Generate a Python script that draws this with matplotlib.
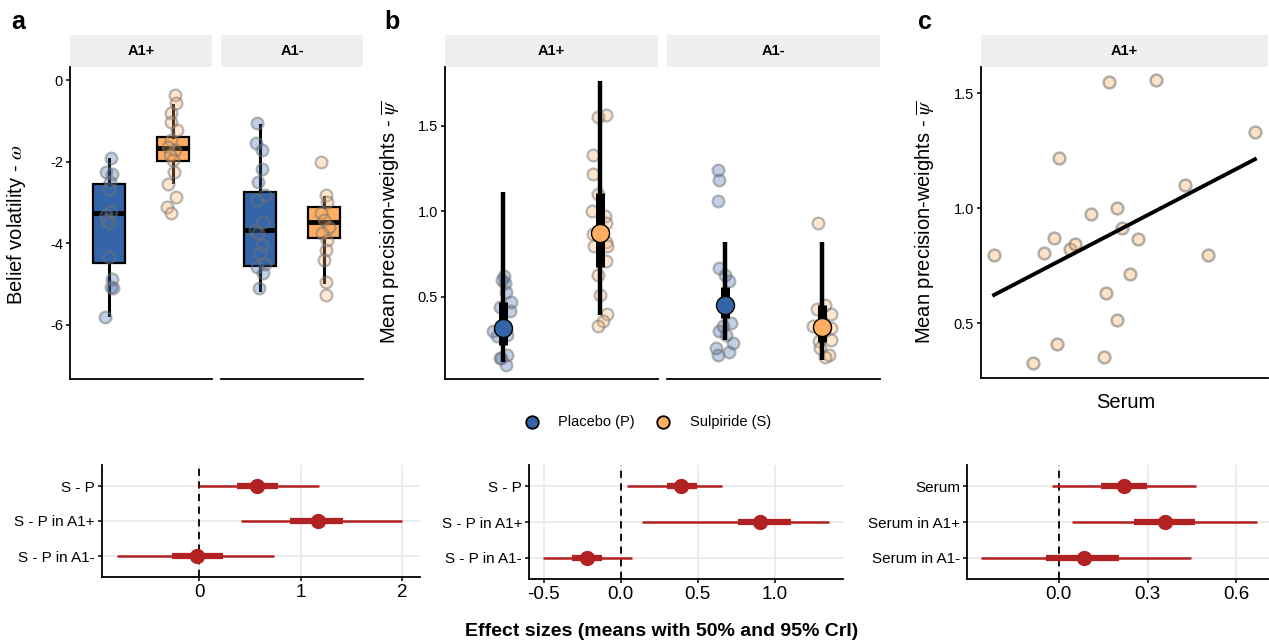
import matplotlib
matplotlib.use("Agg")
import matplotlib.pyplot as plt
import numpy as np
from matplotlib.patches import Rectangle

plt.rcParams["font.family"] = ["Liberation Sans", "DejaVu Sans"]
plt.rcParams["mathtext.fontset"] = "stix"
plt.rcParams["axes.unicode_minus"] = False

W, H = 1269, 644

# ── Data ────────────────────────────────────────────────────────────────
facets = ["A1+", "A1-"]
treatments = ["Placebo (P)", "Sulpiride (S)"]

# panel a: belief volatility (omega), individual subjects
omega_pla_a1p = [-1.90, -2.25, -2.30, -2.50, -2.66, -3.23, -3.30, -3.44, -3.50, -4.33, -4.87, -5.07, -5.10, -5.81]
omega_sul_a1p = [-0.37, -0.57, -0.82, -1.02, -1.23, -1.47, -1.64, -1.72, -1.84, -1.96, -2.25, -2.54, -2.86, -3.11, -3.27]
omega_pla_a1m = [-1.06, -1.55, -1.72, -2.17, -2.50, -2.82, -2.94, -3.48, -3.68, -3.76, -4.05, -4.25, -4.50, -4.58, -4.74, -5.11]
omega_sul_a1m = [-2.00, -2.82, -2.99, -3.27, -3.44, -3.60, -3.76, -3.93, -4.17, -4.42, -4.95, -5.28]
# jitter offsets
jit_pla_a1p = [0.03, -0.04, 0.05, 0.02, 0.01, 0.03, -0.05, -0.03, 0.0, 0.0, 0.05, 0.03, 0.07, -0.06]
jit_sul_a1p = [0.02, 0.04, -0.03, -0.04, 0.05, -0.03, -0.08, 0.03, -0.05, -0.01, 0.01, -0.08, 0.04, -0.09, -0.04]
jit_pla_a1m = [-0.05, -0.06, 0.03, 0.03, -0.03, 0.08, -0.04, 0.05, -0.08, -0.03, 0.03, 0.01, 0.08, -0.05, 0.05, -0.01]
jit_sul_a1m = [-0.05, 0.03, 0.05, -0.05, 0.0, 0.08, -0.03, 0.05, 0.03, 0.0, 0.03, 0.02]

# box stats, order: A1+ P, A1+ S, A1- P, A1- S
box_q1 = [-4.49, -1.99, -4.56, -3.87]
box_med = [-3.26, -1.66, -3.68, -3.48]
box_q3 = [-2.56, -1.40, -2.74, -3.12]
box_wlo = [-5.77, -2.51, -5.15, -4.95]
box_whi = [-1.93, -0.61, -1.10, -2.86]

# panel b: mean precision weights (psi bar)
psi_pla_a1p = [0.62, 0.60, 0.58, 0.53, 0.47, 0.44, 0.42, 0.30, 0.28, 0.27, 0.16, 0.14, 0.14, 0.10]
psi_sul_a1p = [1.56, 1.55, 1.33, 1.22, 1.10, 1.00, 0.97, 0.93, 0.87, 0.82, 0.80, 0.80, 0.71, 0.63, 0.51, 0.40, 0.36, 0.33]
psi_pla_a1m = [1.24, 1.18, 1.06, 0.67, 0.63, 0.59, 0.45, 0.35, 0.33, 0.30, 0.28, 0.23, 0.20, 0.18, 0.16]
psi_sul_a1m = [0.93, 0.45, 0.43, 0.40, 0.33, 0.32, 0.30, 0.25, 0.24, 0.20, 0.16, 0.15]
jitb_pla_a1p = [0.01, -0.01, 0.02, 0.03, 0.08, -0.03, 0.07, -0.10, 0.04, -0.06, 0.04, -0.03, -0.02, 0.03]
jitb_sul_a1p = [0.06, -0.02, -0.07, -0.07, -0.02, -0.08, 0.05, 0.06, -0.07, 0.06, -0.06, 0.07, 0.06, -0.02, 0.0, 0.07, 0.03, -0.02]
jitb_pla_a1m = [-0.07, -0.06, -0.07, -0.06, 0.0, 0.04, -0.02, 0.06, -0.02, -0.06, 0.01, 0.08, -0.09, 0.04, -0.07]
jitb_sul_a1m = [-0.04, 0.03, -0.05, 0.09, -0.09, 0.09, 0.02, 0.09, -0.03, -0.02, 0.07, 0.03]

# model estimates, order: A1+ P, A1+ S, A1- P, A1- S
psi_mean = [0.319, 0.874, 0.451, 0.325]
psi_lo95 = [0.12, 0.393, 0.247, 0.13]
psi_hi95 = [1.114, 1.763, 0.822, 0.822]
psi_lo50 = [0.218, 0.675, 0.374, 0.237]
psi_hi50 = [0.470, 1.105, 0.558, 0.451]

# panel c: serum vs psi bar (A1+, sulpiride)
serum = [0.00, 0.15, 0.19, 0.23, 0.24, 0.25, 0.29, 0.31, 0.37, 0.42, 0.43,
         0.44, 0.47, 0.47, 0.49, 0.52, 0.55, 0.62, 0.73, 0.82, 1.00]
psi_serum = [0.797, 0.326, 0.807, 0.870, 0.409, 1.220, 0.822, 0.843, 0.975, 0.355, 0.630,
             1.548, 0.514, 1.003, 0.913, 0.713, 0.865, 1.558, 1.100, 0.796, 1.330]
fit_intercept = 0.623
fit_slope = 0.59

# effect sizes (means with 50% and 95% CrI)
eff_a_labels = ["S - P", "S - P in A1+", "S - P in A1-"]
eff_a_mean = [0.573, 1.17, -0.02]
eff_a_lo95 = [0.0, 0.412, -0.816]
eff_a_hi95 = [1.186, 2.006, 0.738]
eff_a_lo50 = [0.37, 0.896, -0.273]
eff_a_hi50 = [0.775, 1.423, 0.237]

eff_b_labels = ["S - P", "S - P in A1+", "S - P in A1-"]
eff_b_mean = [0.39, 0.905, -0.221]
eff_b_lo95 = [0.039, 0.14, -0.503]
eff_b_hi95 = [0.656, 1.352, 0.075]
eff_b_lo50 = [0.299, 0.764, -0.318]
eff_b_hi50 = [0.494, 1.11, -0.123]

eff_c_labels = ["Serum", "Serum in A1+", "Serum in A1-"]
eff_c_mean = [0.22, 0.358, 0.085]
eff_c_lo95 = [-0.023, 0.045, -0.264]
eff_c_hi95 = [0.463, 0.668, 0.445]
eff_c_lo50 = [0.141, 0.255, -0.044]
eff_c_hi50 = [0.299, 0.46, 0.204]

# ── Style ───────────────────────────────────────────────────────────────
BLUE = "#3465A8"
ORANGE = "#FDAE61"
RED = "#B22222"
STRIP = "#EFEFEF"
GRID = "#EBEBEB"
YLAB = 14.5


def px(x0, y0, x1, y1):
    return [x0 / W, 1 - y1 / H, (x1 - x0) / W, (y1 - y0) / H]


def rgba(c, a):
    r, g, b = matplotlib.colors.to_rgb(c)
    return (r, g, b, a)


def pts(ax, x, jit, y, color):
    ax.scatter(np.array(jit) + x, y, s=72, facecolor=rgba(color, 0.3),
               edgecolor=(0.45, 0.45, 0.45, 0.5), linewidth=1.6, zorder=3)


def classic(ax, left=True):
    for s in ["top", "right"]:
        ax.spines[s].set_visible(False)
    ax.spines["left"].set_visible(left)
    for s in ["left", "bottom"]:
        ax.spines[s].set_linewidth(1.3)
    ax.tick_params(axis="y", length=3, width=1.1, labelsize=10.5, pad=2)


def strip(x0, x1, label):
    over.add_patch(Rectangle((x0, 35), x1 - x0, 32, facecolor=STRIP, edgecolor="none"))
    over.text((x0 + x1) / 2, 51, label, ha="center", va="center",
              fontsize=10.5, fontweight="bold")


fig = plt.figure(figsize=(W / 100, H / 100), dpi=100)
over = fig.add_axes([0, 0, 1, 1])
over.set_xlim(0, W)
over.set_ylim(H, 0)
over.axis("off")

# ── panel a ─────────────────────────────────────────────────────────────
omega_pts = [(omega_pla_a1p, jit_pla_a1p, omega_sul_a1p, jit_sul_a1p),
             (omega_pla_a1m, jit_pla_a1m, omega_sul_a1m, jit_sul_a1m)]
a_rects = [(70, 212), (221, 363)]
for k, (x0, x1) in enumerate(a_rects):
    ax = fig.add_axes(px(x0, 67, x1, 379))
    classic(ax, left=(k == 0))
    stats = []
    for j in range(2):
        i = 2 * k + j
        stats.append(dict(q1=box_q1[i], med=box_med[i], q3=box_q3[i],
                          whislo=box_wlo[i], whishi=box_whi[i], fliers=[]))
    bp = ax.bxp(stats, positions=[1, 2], widths=0.5, patch_artist=True,
                showcaps=False,
                boxprops=dict(linewidth=1.6, edgecolor="black"),
                medianprops=dict(color="black", linewidth=3.5),
                whiskerprops=dict(color="black", linewidth=2.2))
    for patch, c in zip(bp["boxes"], [BLUE, ORANGE]):
        patch.set_facecolor(c)
    yp, jp, ys, js = omega_pts[k]
    pts(ax, 1, jp, yp, BLUE)
    pts(ax, 2, js, ys, ORANGE)
    ax.set_xlim(0.4, 2.6)
    ax.set_ylim(-7.33, 0.32)
    ax.set_xticks([])
    ax.set_yticks([0, -2, -4, -6])
    ax.set_yticklabels(["0", "-2", "-4", "-6"])
    if k > 0:
        ax.tick_params(axis="y", left=False, labelleft=False)
    strip(x0, x1, facets[k])
over.text(17, 225, r"Belief volatility - $\omega$", rotation=90,
          ha="center", va="center", fontsize=YLAB)

# ── panel b ─────────────────────────────────────────────────────────────
psi_pts = [(psi_pla_a1p, jitb_pla_a1p, psi_sul_a1p, jitb_sul_a1p),
           (psi_pla_a1m, jitb_pla_a1m, psi_sul_a1m, jitb_sul_a1m)]
b_rects = [(445, 658), (667, 880)]
for k, (x0, x1) in enumerate(b_rects):
    ax = fig.add_axes(px(x0, 67, x1, 379))
    classic(ax, left=(k == 0))
    yp, jp, ys, js = psi_pts[k]
    pts(ax, 1, jp, yp, BLUE)
    pts(ax, 2, js, ys, ORANGE)
    for j, c in enumerate([BLUE, ORANGE]):
        i = 2 * k + j
        ax.plot([j + 1, j + 1], [psi_lo95[i], psi_hi95[i]], color="black", lw=3.2,
                solid_capstyle="butt", zorder=4)
        ax.plot([j + 1, j + 1], [psi_lo50[i], psi_hi50[i]], color="black", lw=6.5,
                solid_capstyle="butt", zorder=4)
        ax.plot(j + 1, psi_mean[i], "o", ms=13, mfc=c, mec="black", mew=1.0, zorder=5)
    ax.set_xlim(0.4, 2.6)
    ax.set_ylim(0.02, 1.843)
    ax.set_xticks([])
    ax.set_yticks([0.5, 1.0, 1.5])
    ax.set_yticklabels(["0.5", "1.0", "1.5"])
    if k > 0:
        ax.tick_params(axis="y", left=False, labelleft=False)
    strip(x0, x1, facets[k])
over.text(390, 222, r"Mean precision-weights - $\overline{\psi}$", rotation=90,
          ha="center", va="center", fontsize=YLAB)

# legend
over.plot(532, 422, "o", ms=9, mfc=BLUE, mec="black", mew=1.3)
over.text(558, 422, treatments[0], va="center", ha="left", fontsize=10.5)
over.plot(663, 422, "o", ms=9, mfc=ORANGE, mec="black", mew=1.3)
over.text(690, 422, treatments[1], va="center", ha="left", fontsize=10.5)

# ── panel c ─────────────────────────────────────────────────────────────
ax = fig.add_axes(px(981, 67, 1268, 378))
classic(ax)
ax.scatter(serum, psi_serum, s=72, facecolor=rgba(ORANGE, 0.35),
           edgecolor=(0.45, 0.45, 0.45, 0.55), linewidth=1.8, zorder=3)
xs = np.array([min(serum), max(serum)])
ax.plot(xs, fit_intercept + fit_slope * xs, color="black", lw=2.8, zorder=4)
ax.set_xlim(-0.05, 1.05)
ax.set_ylim(0.262, 1.614)
ax.set_xticks([])
ax.set_yticks([0.5, 1.0, 1.5])
ax.set_yticklabels(["0.5", "1.0", "1.5"])
strip(981, 1268, facets[0])
over.text(925, 222, r"Mean precision-weights - $\overline{\psi}$", rotation=90,
          ha="center", va="center", fontsize=YLAB)
over.text(1126, 402, "Serum", ha="center", va="center", fontsize=14.5)

# ── effect-size panels ──────────────────────────────────────────────────
forest = [
    ((101.7, 465, 420, 577), eff_a_labels, eff_a_mean, eff_a_lo95, eff_a_hi95,
     eff_a_lo50, eff_a_hi50, (-0.965, 2.18), [0, 1, 2], ["0", "1", "2"]),
    ((529, 465, 843, 579), eff_b_labels, eff_b_mean, eff_b_lo95, eff_b_hi95,
     eff_b_lo50, eff_b_hi50, (-0.595, 1.445), [-0.5, 0, 0.5, 1.0], ["-0.5", "0.0", "0.5", "1.0"]),
    ((967, 465, 1269, 579), eff_c_labels, eff_c_mean, eff_c_lo95, eff_c_hi95,
     eff_c_lo50, eff_c_hi50, (-0.31, 0.71), [0, 0.3, 0.6], ["0.0", "0.3", "0.6"]),
]
for rect, labels, m, lo95, hi95, lo50, hi50, xlim, ticks, tlabels in forest:
    ax = fig.add_axes(px(*rect))
    classic(ax)
    rows = np.arange(1, len(labels) + 1)
    for t in ticks:
        ax.axvline(t, color=GRID, lw=1.3, zorder=0)
    for r in rows:
        ax.axhline(r, color=GRID, lw=1.3, zorder=0)
    ax.axvline(0, color="black", lw=1.3, dashes=(4, 3), zorder=1)
    ax.hlines(rows, lo95, hi95, color=RED, lw=1.8, zorder=2)
    ax.hlines(rows, lo50, hi50, color=RED, lw=4.5, zorder=3)
    ax.plot(m, rows, "o", ms=10, color=RED, zorder=4, linestyle="none")
    ax.set_ylim(3.6, 0.4)
    ax.set_yticks(rows)
    ax.set_yticklabels(labels, fontsize=11)
    ax.set_xlim(*xlim)
    ax.set_xticks(ticks)
    ax.set_xticklabels(tlabels)
    ax.tick_params(axis="x", length=3, width=1.1, labelsize=13.5, pad=2)

fig.text(662 / W, 1 - 632 / H, "Effect sizes (means with 50% and 95% CrI)",
         ha="center", va="center", fontsize=14, fontweight="bold")

# panel letters
for lx, lab in [(18, "a"), (392, "b"), (925, "c")]:
    over.text(lx, 22, lab, ha="center", va="center", fontsize=18, fontweight="bold")

fig.savefig("out.png", dpi=100, facecolor="white")
